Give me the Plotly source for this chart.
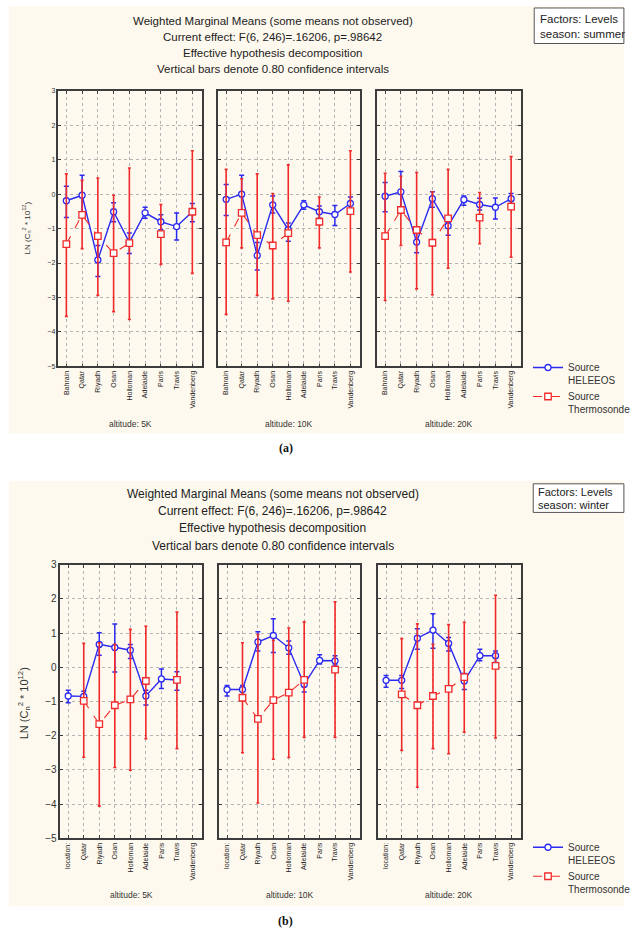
import plotly.graph_objects as go

W, H = 636, 938

# ---- categories -------------------------------------------------------------
sites_summer = ["Bahrain", "Qatar", "Riyadh", "Osan", "Holloman", "Adelaide",
                "Paris", "Travis", "Vandenberg"]
sites_winter = ["location:", "Qatar", "Riyadh", "Osan", "Holloman", "Adelaide",
                "Paris", "Travis", "Vandenberg"]
altitudes = ["altitude: 5K", "altitude: 10K", "altitude: 20K"]
yticks = [-5, -4, -3, -2, -1, 0, 1, 2, 3]

# ---- summer: HELEEOS means and 0.80 CI limits -------------------------------
s5_hel = [-0.19, -0.03, -1.91, -0.51, -1.40, -0.54, -0.80, -0.94, -0.51]
s5_hel_lo = [-0.68, -0.60, -2.39, -0.80, -1.72, -0.70, -1.03, -1.33, -0.80]
s5_hel_hi = [0.23, 0.55, -1.49, -0.25, -1.13, -0.38, -0.60, -0.55, -0.27]
s10_hel = [-0.15, 0.00, -1.78, -0.31, -1.03, -0.31, -0.51, -0.59, -0.27]
s10_hel_lo = [-0.62, -0.49, -2.20, -0.55, -1.37, -0.44, -0.70, -0.91, -0.44]
s10_hel_hi = [0.28, 0.55, -1.40, -0.05, -0.84, -0.19, -0.34, -0.33, -0.08]
s20_hel = [-0.06, 0.07, -1.39, -0.13, -0.92, -0.16, -0.30, -0.38, -0.13]
s20_hel_lo = [-0.51, -0.44, -1.70, -0.38, -1.19, -0.32, -0.46, -0.72, -0.27]
s20_hel_hi = [0.34, 0.66, -1.08, 0.07, -0.70, -0.05, -0.12, -0.11, 0.02]

# ---- summer: Thermosonde ----------------------------------------------------
s5_thr = [-1.45, -0.60, -1.22, -1.71, -1.42, None, -1.16, None, -0.51]
s5_thr_lo = [-3.55, -1.58, -2.94, -3.41, -3.64, None, -2.04, None, -2.30]
s5_thr_hi = [0.59, 0.40, 0.47, -0.03, 0.76, None, -0.30, None, 1.26]
s10_thr = [-1.40, -0.54, -1.19, -1.49, -1.13, None, -0.80, None, -0.49]
s10_thr_lo = [-3.49, -1.56, -2.94, -3.04, -3.11, None, -1.56, None, -2.26]
s10_thr_hi = [0.72, 0.45, 0.59, 0.02, 0.85, None, -0.08, None, 1.26]
s20_thr = [-1.22, -0.46, -1.04, -1.41, -0.70, None, -0.68, None, -0.36]
s20_thr_lo = [-3.09, -1.49, -2.75, -2.92, -2.15, None, -1.44, None, -1.83]
s20_thr_hi = [0.61, 0.52, 0.63, 0.07, 0.72, None, 0.05, None, 1.09]

# ---- winter: HELEEOS --------------------------------------------------------
w5_hel = [-0.84, -0.85, 0.67, 0.58, 0.50, -0.84, -0.34, -0.37, None]
w5_hel_lo = [-1.04, -0.98, 0.35, -0.14, 0.26, -1.10, -0.62, -0.67, None]
w5_hel_hi = [-0.67, -0.70, 1.01, 1.27, 0.67, -0.67, -0.05, -0.13, None]
w10_hel = [-0.65, -0.65, 0.74, 0.93, 0.57, -0.50, 0.20, 0.19, None]
w10_hel_lo = [-0.84, -0.80, 0.48, 0.43, 0.38, -0.72, 0.10, 0.07, None]
w10_hel_hi = [-0.53, -0.53, 1.04, 1.42, 0.77, -0.29, 0.37, 0.34, None]
w20_hel = [-0.38, -0.38, 0.85, 1.09, 0.70, -0.40, 0.34, 0.34, None]
w20_hel_lo = [-0.58, -0.62, 0.53, 0.56, 0.48, -0.65, 0.19, 0.14, None]
w20_hel_hi = [-0.24, -0.24, 1.13, 1.57, 0.87, -0.18, 0.53, 0.48, None]

# ---- winter: Thermosonde ----------------------------------------------------
w5_thr = [None, -0.98, -1.66, -1.11, -0.94, -0.40, None, -0.37, None]
w5_thr_lo = [None, -2.63, -4.06, -2.93, -3.01, -2.09, None, -2.38, None]
w5_thr_hi = [None, 0.70, 0.72, 0.67, 1.11, 1.20, None, 1.62, None]
w10_thr = [None, -0.89, -1.51, -0.96, -0.74, -0.37, None, -0.07, None]
w10_thr_lo = [None, -2.50, -3.97, -2.69, -2.64, -2.05, None, -2.05, None]
w10_thr_hi = [None, 0.72, 0.96, 0.79, 1.15, 1.33, None, 1.92, None]
w20_thr = [None, -0.79, -1.11, -0.84, -0.63, -0.29, None, 0.04, None]
w20_thr_lo = [None, -2.43, -3.51, -2.38, -2.53, -1.90, None, -2.07, None]
w20_thr_hi = [None, 0.84, 1.27, 0.67, 1.25, 1.32, None, 2.11, None]

BLUE = "#2a2af0"
RED = "#f02a2a"
CREAM = "#fef9ee"
GRID = "#b4b4b4"
FRAME = "#3c3c3c"
FONT = "Liberation Sans"


def fx(p):
    return p / W


def fy(p):
    return 1 - p / H


def err(mean, lo, hi):
    plus = [None if m is None else h - m for m, h in zip(mean, hi)]
    minus = [None if m is None else m - l for m, l in zip(mean, lo)]
    return plus, minus


# panel frames in pixels: (x0, x1, y_top, y_bottom)
frames = [
    (60, 207, 86, 365), (224, 369, 86, 365), (387, 534, 86, 365),
    (62, 207, 566, 843), (225, 369, 566, 843), (388, 534, 566, 843),
]

panels = [
    (s5_hel, s5_hel_lo, s5_hel_hi, s5_thr, s5_thr_lo, s5_thr_hi),
    (s10_hel, s10_hel_lo, s10_hel_hi, s10_thr, s10_thr_lo, s10_thr_hi),
    (s20_hel, s20_hel_lo, s20_hel_hi, s20_thr, s20_thr_lo, s20_thr_hi),
    (w5_hel, w5_hel_lo, w5_hel_hi, w5_thr, w5_thr_lo, w5_thr_hi),
    (w10_hel, w10_hel_lo, w10_hel_hi, w10_thr, w10_thr_lo, w10_thr_hi),
    (w20_hel, w20_hel_lo, w20_hel_hi, w20_thr, w20_thr_lo, w20_thr_hi),
]

xs = list(range(1, 10))
fig = go.Figure()
layout = {}

for i, (frame, data) in enumerate(zip(frames, panels)):
    n = "" if i == 0 else str(i + 1)
    hel, hlo, hhi, thr, tlo, thi = data
    winter = i >= 3
    leg = "legend2" if winter else "legend"
    first = i in (0, 3)

    hp, hm = err(hel, hlo, hhi)
    fig.add_trace(go.Scatter(
        x=xs, y=hel, xaxis="x" + n, yaxis="y" + n, mode="lines+markers",
        name="Source<br>HELEEOS", legend=leg, showlegend=first,
        line=dict(color=BLUE, width=1.4),
        marker=dict(symbol="circle", size=6, color="white",
                    line=dict(color=BLUE, width=1.3)),
        error_y=dict(type="data", array=hp, arrayminus=hm, symmetric=False,
                     color=BLUE, thickness=1.5, width=2.5),
    ))
    tp, tm = err(thr, tlo, thi)
    fig.add_trace(go.Scatter(
        x=xs, y=thr, xaxis="x" + n, yaxis="y" + n, mode="lines+markers",
        name="Source<br>Thermosonde", legend=leg, showlegend=first,
        connectgaps=False,
        line=dict(color=RED, width=1.1, dash="dash"),
        marker=dict(symbol="square", size=6.5, color="white",
                    line=dict(color=RED, width=1.3)),
        error_y=dict(type="data", array=tp, arrayminus=tm, symmetric=False,
                     color=RED, thickness=1.6, width=1.5),
    ))

    x0, x1, yt, yb = frame
    labels = sites_winter if winter else sites_summer
    layout["xaxis" + n] = dict(
        domain=[fx(x0), fx(x1)], anchor="y" + n, range=[0.5, 9.6],
        tickmode="array", tickvals=xs, ticktext=labels, tickangle=-90,
        tickfont=dict(family=FONT, size=7, color="#222"),
        ticks="inside", ticklen=3, tickcolor=FRAME,
        showline=True, mirror="ticks", linecolor=FRAME, linewidth=1.6,
        showgrid=True, gridcolor=GRID, griddash="dot", gridwidth=1,
        zeroline=False, fixedrange=True,
    )
    layout["yaxis" + n] = dict(
        domain=[fy(yb), fy(yt)], anchor="x" + n, range=[-5, 3],
        tickmode="array", tickvals=yticks,
        showticklabels=i in (0, 3),
        tickfont=dict(family=FONT, size=10 if winter else 7, color="#333"),
        ticks="inside", ticklen=3, tickcolor=FRAME,
        showline=True, mirror="ticks", linecolor=FRAME, linewidth=1.6,
        showgrid=True, gridcolor=GRID, griddash="dot", gridwidth=1,
        zeroline=False, fixedrange=True,
    )

annotations = []
shapes = [
    dict(type="rect", xref="paper", yref="paper", x0=fx(9), x1=fx(640),
         y0=fy(433), y1=fy(0), fillcolor=CREAM, line=dict(width=0),
         layer="below"),
    dict(type="rect", xref="paper", yref="paper", x0=fx(9), x1=fx(640),
         y0=fy(912), y1=fy(481), fillcolor=CREAM, line=dict(width=0),
         layer="below"),
]


def text(x, y, s, size, **kw):
    annotations.append(dict(
        xref="paper", yref="paper", x=fx(x), y=fy(y), text=s, showarrow=False,
        font=dict(family=kw.pop("family", FONT), size=size,
                  color=kw.pop("color", "#222")),
        xanchor=kw.pop("xanchor", "center"), yanchor=kw.pop("yanchor", "middle"),
        **kw))


title_lines = ["Weighted Marginal Means (some means not observed)",
               "Current effect: F(6, 246)=.16206, p=.98642",
               "Effective hypothesis decomposition",
               "Vertical bars denote 0.80 confidence intervals"]
for k, line in enumerate(title_lines):
    text(280, 15 + 16.4 * k, line, 11.5)
    text(280, 494 + 17.6 * k, line, 12)

# factor boxes
shapes.append(dict(type="rect", xref="paper", yref="paper", x0=fx(548),
                   x1=fx(640), y0=fy(38), y1=fy(2), fillcolor="white",
                   line=dict(color="#555", width=1)))
text(552, 13, "Factors: Levels", 11.5, xanchor="left")
text(552, 28, "season: summer", 11.5, xanchor="left")
shapes.append(dict(type="rect", xref="paper", yref="paper", x0=fx(547),
                   x1=fx(640), y0=fy(513), y1=fy(484), fillcolor="white",
                   line=dict(color="#555", width=1)))
text(550, 492, "Factors: Levels", 11, xanchor="left")
text(550, 505, "season: winter", 11, xanchor="left")

# altitude captions under each panel
for i, (x0, x1, yt, yb) in enumerate(frames):
    cy = 423 if i < 3 else 901
    text((x0 + x1) / 2, cy, altitudes[i % 3], 8.5, color="#333")

ytitle = "LN (C<sub>n</sub><sup>2</sup> * 10<sup>12</sup>)"
text(27, 225, ytitle, 8, textangle=-90, color="#333")
text(25, 706, ytitle, 11, textangle=-90, color="#333")

text(293, 448, "<b>(a)</b>", 12, family="Liberation Serif", color="#111")
text(293, 927, "<b>(b)</b>", 12, family="Liberation Serif", color="#111")

legend_style = dict(
    xref="paper", yref="paper", xanchor="left", yanchor="top",
    bgcolor="rgba(0,0,0,0)", borderwidth=0, itemwidth=30, valign="top",
    font=dict(family=FONT, size=10, color="#333"), tracegroupgap=0,
)
layout["legend"] = dict(legend_style, x=fx(542), y=fy(353))
layout["legend2"] = dict(legend_style, x=fx(542), y=fy(839))

fig.update_layout(
    width=W, height=H, margin=dict(l=0, r=0, t=0, b=0),
    paper_bgcolor="white", plot_bgcolor="white",
    annotations=annotations, shapes=shapes, **layout,
)
fig.write_html("out.html")
